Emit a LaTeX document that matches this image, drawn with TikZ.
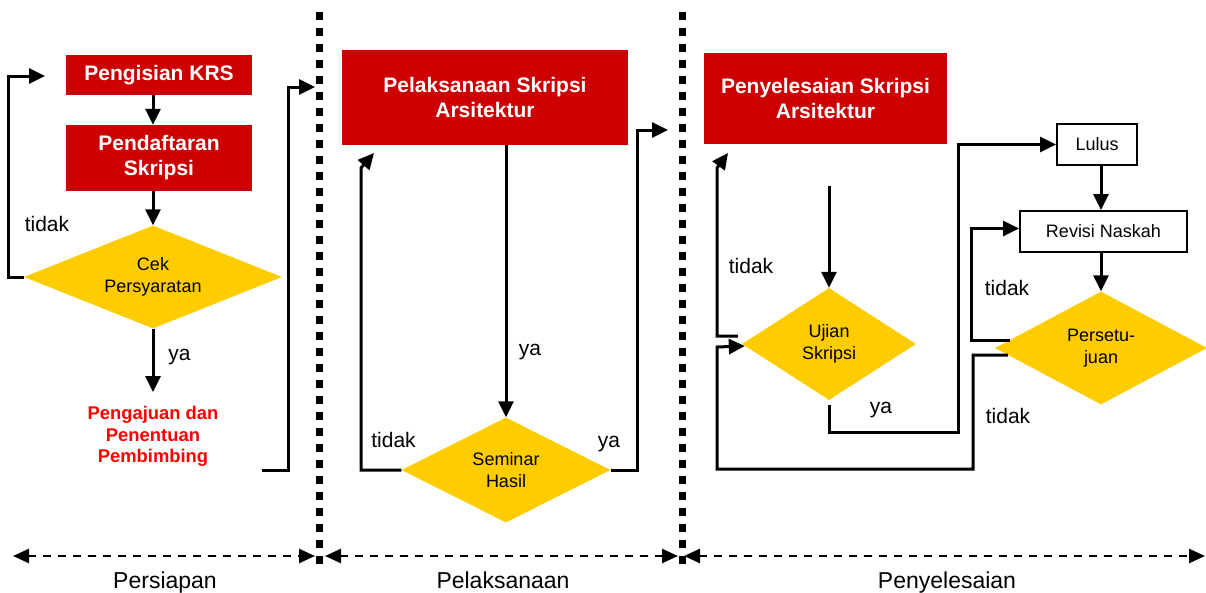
\documentclass[tikz,border=0pt]{standalone}
\usepackage{fontspec}
\setmainfont{Liberation Sans}
\usetikzlibrary{shapes.geometric,arrows.meta,calc}
\definecolor{boxred}{HTML}{CC0000}
\definecolor{gold}{HTML}{FFCC00}
\definecolor{txtred}{HTML}{FF0000}
\tikzset{
  conn/.style={line width=3pt,-{Triangle[length=16pt,width=15pt]}},
  redbox/.style={fill=boxred,text=white,font=\bfseries\fontsize{21}{25}\selectfont,align=center,inner sep=0pt},
  redtext/.style={text=txtred,font=\bfseries\fontsize{18.4}{21.5}\selectfont,align=center,inner sep=0pt},
  dia/.style={diamond,fill=gold,inner sep=0pt,font=\fontsize{18}{21.5}\selectfont,align=center},
  wbox/.style={draw,line width=2pt,fill=white,font=\fontsize{18}{21}\selectfont,inner sep=0pt},
  lbl/.style={font=\fontsize{21}{25}\selectfont,anchor=base,inner sep=0pt},
  phase/.style={font=\fontsize{23}{27}\selectfont,anchor=base,inner sep=0pt},
  dots/.style={line width=7pt,dash pattern=on 7.5pt off 8.5pt},
  dash2/.style={line width=2.5pt,dash pattern=on 8pt off 7pt,{Triangle[length=16pt,width=14pt]}-{Triangle[length=16pt,width=14pt]}}
}
\begin{document}
\begin{tikzpicture}[x=1pt,y=-1pt]
\useasboundingbox (0,0) rectangle (1206,592);

% phase separators
\coordinate (d1t) at (319.5,12); \coordinate (d1b) at (319.5,564);
\coordinate (d2t) at (682,12); \coordinate (d2b) at (682,564);
\draw[dots] (d1t) -- (d1b);
\draw[dots] (d2t) -- (d2b);

% phase arrows
\coordinate (a0) at (13,556); \coordinate (a1) at (315,556);
\coordinate (b0) at (325,556); \coordinate (b1) at (678,556);
\coordinate (c0) at (684,556); \coordinate (c1) at (1205,556);
\draw[dash2] (a0) -- (a1);
\draw[dash2] (b0) -- (b1);
\draw[dash2] (c0) -- (c1);

\node[phase] (ph1) at (165,588) {Persiapan};
\node[phase] (ph2) at (503,588) {Pelaksanaan};
\node[phase] (ph3) at (947,588) {Penyelesaian};

% nodes
\node[redbox,minimum width=186pt,minimum height=40pt] (krs) at (159,75) {Pengisian KRS};
\node[redbox,minimum width=186pt,minimum height=66pt] (daf) at (159,158) {Pendaftaran\\Skripsi};
\node[dia,aspect=2.5,minimum width=258pt,minimum height=103pt] (cek) at (153,277) {Cek\\Persyaratan};
\node[redtext,anchor=north] (peng) at (153,406) {Pengajuan dan\\Penentuan\\Pembimbing};

\node[redbox,minimum width=286pt,minimum height=95pt] (pel) at (485,97.5) {Pelaksanaan Skripsi\\Arsitektur};
\node[dia,aspect=2,minimum width=209pt,minimum height=105pt] (sem) at (506,470) {Seminar\\Hasil};

\node[redbox,minimum width=243pt,minimum height=91pt] (pny) at (825.5,98.5) {Penyelesaian Skripsi\\Arsitektur};
\node[dia,aspect=1.55,minimum width=174pt,minimum height=112pt] (uji) at (829,344) {Ujian\\Skripsi};
\node[wbox,minimum width=80pt,minimum height=41pt] (lulus) at (1097,144.5) {Lulus};
\node[wbox,minimum width=167pt,minimum height=41pt] (rev) at (1103.5,231.5) {Revisi Naskah};
\node[dia,aspect=1.88,minimum width=212pt,minimum height=113pt] (per) at (1101,348) {Persetu-\\juan};

% connectors: Persiapan
\draw[conn] (krs.south -| cek.north) -- (daf.north -| cek.north);
\draw[conn] (daf.south -| cek.north) -- (cek.north);
\coordinate (t1) at (45,76);
\draw[conn] (cek.west) -- ++(-15,0) |- (t1);
\draw[conn] (cek.south) -- ($(peng.north)+(0,-14)$);
\coordinate (p1s) at (262,470); \coordinate (p1e) at (315,87);
\draw[conn] (p1s) -- (288,470) |- (p1e);

% connectors: Pelaksanaan
\draw[conn] (pel.south -| sem.north) -- (sem.north);
\coordinate (t2) at (374,153);
\draw[conn] (sem.west) -| (361,168) -- (t2);
\coordinate (t3) at (668,130);
\draw[conn] (sem.east) -| (637,130) -- (t3);

% connectors: Penyelesaian
\coordinate (s4) at (829,186);
\draw[conn] (s4) -- (uji.north);
\coordinate (t4) at (728,153);
\draw[conn] ($(uji.west)+(-4,-8)$) -| (717,168) -- (t4);
\draw[conn] ($(uji.south)+(0,5)$) |- (958,432) |- (lulus.west);
\draw[conn] (lulus.south -| per.north) -- (rev.north -| per.north);
\draw[conn] (rev.south -| per.north) -- (per.north);
\draw[conn] ($(per.west)+(15,-8)$) -| ($(rev.west)+(-48,-3)$) -- ($(rev.west)+(0,-3)$);
\draw[conn] ($(per.west)+(13,7)$) -| (973,469) -| (717,347) -- ($(uji.west)+(3,2)$);

% labels
\node[lbl] (l1) at (47,231) {tidak};
\node[lbl] (l2) at (179.5,360) {ya};
\node[lbl] (l3) at (530,355) {ya};
\node[lbl] (l4) at (393.5,447) {tidak};
\node[lbl] (l5) at (609,447) {ya};
\node[lbl] (l6) at (751,273) {tidak};
\node[lbl] (l7) at (881,413) {ya};
\node[lbl] (l8) at (1007,295) {tidak};
\node[lbl] (l9) at (1008,423) {tidak};
\end{tikzpicture}
\end{document}
